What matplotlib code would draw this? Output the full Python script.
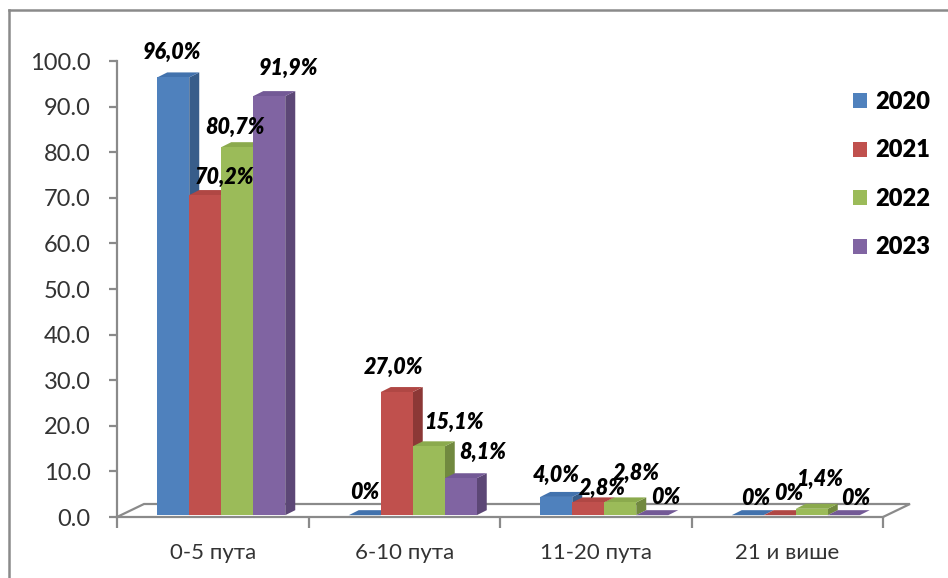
import matplotlib
matplotlib.use("Agg")
import matplotlib.pyplot as plt
from matplotlib.patches import Polygon, Patch
from matplotlib.lines import Line2D

# ---- data ----
categories = ["0-5 пута", "6-10 пута", "11-20 пута", "21 и више"]
years = ["2020", "2021", "2022", "2023"]
v2020 = [96.0, 0.0, 4.0, 0.0]
v2021 = [70.2, 27.0, 2.8, 0.0]
v2022 = [80.7, 15.1, 2.8, 1.4]
v2023 = [91.9, 8.1, 0.0, 0.0]
series = [v2020, v2021, v2022, v2023]
yticks = [0, 10, 20, 30, 40, 50, 60, 70, 80, 90, 100]

# ---- style ----
front_colors = ["#4F81BD", "#C0504D", "#9BBB59", "#8064A2"]
top_colors = ["#4272AD", "#B04744", "#8BAA4D", "#735996"]
side_colors = ["#385D8A", "#8C3836", "#71893F", "#5C4776"]
axis_gray = "#8A8A8A"
text_dark = "#333333"

# label offsets (pixels) from the top-centre of each bar's front face
label_nudge = [
    [(-1, 25), (0, 23), (0, 22), (8, 17)],
    [(19, 18), (-3, 25), (14, 14), (9, 22)],
    [(-2, 20), (25, 24), (16, 29), (8, 29)],
    [(19, 28), (22, 26), (13, 18), (12, 17)],
]

plt.rcParams["font.family"] = ["Lato", "DejaVu Sans"]

W, H = 948, 578
fig = plt.figure(figsize=(W / 100, H / 100), dpi=100)
fig.patch.set_facecolor("white")

ax = fig.add_axes([117 / W, 61 / H, 766 / W, 456 / H])
ax.set_xlim(-0.5, 3.5)
ax.set_ylim(0, 100)
ax.set_facecolor("none")

# pseudo-3D geometry (data units)
BAR_W = 32 / 191.5
GROUP_SHIFT = 8.5 / 191.5
DX = 10 / 191.5
DY = 5 / 4.56
BASE = 0.4
FLOOR_DX = 27 / 191.5
FLOOR_DY = 13 / 4.56

# floor outline
ax.plot([-0.5, -0.5 + FLOOR_DX, 3.5 + FLOOR_DX, 3.5], [0, FLOOR_DY, FLOOR_DY, 0],
        color=axis_gray, lw=1.6, clip_on=False, zorder=1, solid_joinstyle="miter")

z = 2
for i, cat in enumerate(categories):
    for j, vals in enumerate(series):
        v = vals[i]
        x0 = i + GROUP_SHIFT - 2 * BAR_W + j * BAR_W
        top = BASE + v
        side = Polygon([(x0 + BAR_W, BASE), (x0 + BAR_W + DX, BASE + DY),
                        (x0 + BAR_W + DX, top + DY), (x0 + BAR_W, top)],
                       closed=True, facecolor=side_colors[j], edgecolor="none", zorder=z)
        ax.add_patch(side)
        cap = Polygon([(x0, top), (x0 + BAR_W, top), (x0 + BAR_W + DX, top + DY),
                       (x0 + DX, top + DY)],
                      closed=True, facecolor=top_colors[j], edgecolor="none", zorder=z + 0.1)
        ax.add_patch(cap)
        ax.bar(x0, v, width=BAR_W, bottom=BASE, align="edge",
               color=front_colors[j], edgecolor="none", zorder=z + 0.2)
        z += 1

        label = "0%" if v == 0 else f"{v:.1f}".replace(".", ",") + "%"
        ndx, ndy = label_nudge[j][i]
        ax.annotate(label, xy=(x0 + BAR_W / 2, top), xytext=(ndx, ndy),
                    textcoords="offset pixels", ha="center", va="center",
                    fontsize=15.5, fontweight="heavy", fontstyle="italic",
                    color="black", zorder=100, annotation_clip=False)

# axes
for s in ["top", "right"]:
    ax.spines[s].set_visible(False)
for s in ["left", "bottom"]:
    ax.spines[s].set_color(axis_gray)
    ax.spines[s].set_linewidth(1.6)
ax.set_yticks(yticks)
ax.set_yticklabels([f"{t:.1f}" for t in yticks])
ax.tick_params(axis="y", direction="out", length=6, width=1.6, color=axis_gray,
               pad=13, labelsize=17, labelcolor=text_dark)

ax.set_xticks(range(len(categories)))
ax.set_xticklabels(categories)
ax.set_xticks([-0.5, 0.5, 1.5, 2.5, 3.5], minor=True)
ax.tick_params(axis="x", which="major", length=0, pad=19, labelsize=16,
               labelcolor=text_dark)
ax.tick_params(axis="x", which="minor", direction="out", length=8, width=1.6,
               color=axis_gray)

# legend
handles = [Patch(facecolor=c, edgecolor="none") for c in front_colors]
fig.legend(handles, years, loc="upper left",
           bbox_to_anchor=(853 / W, 1 - 91 / H), frameon=False,
           prop={"size": 17, "weight": "heavy"}, handlelength=0.6,
           handleheight=0.6, handletextpad=0.35, labelspacing=1.12,
           borderpad=0, borderaxespad=0)

# outer frame (left and top edges)
fig.add_artist(Line2D([9 / W, 9 / W], [0, 1 - 10 / H], transform=fig.transFigure,
                      color=axis_gray, lw=1.8))
fig.add_artist(Line2D([9 / W, 1], [1 - 10 / H, 1 - 10 / H], transform=fig.transFigure,
                      color=axis_gray, lw=1.8))

fig.savefig("out.png", dpi=100, facecolor="white")
